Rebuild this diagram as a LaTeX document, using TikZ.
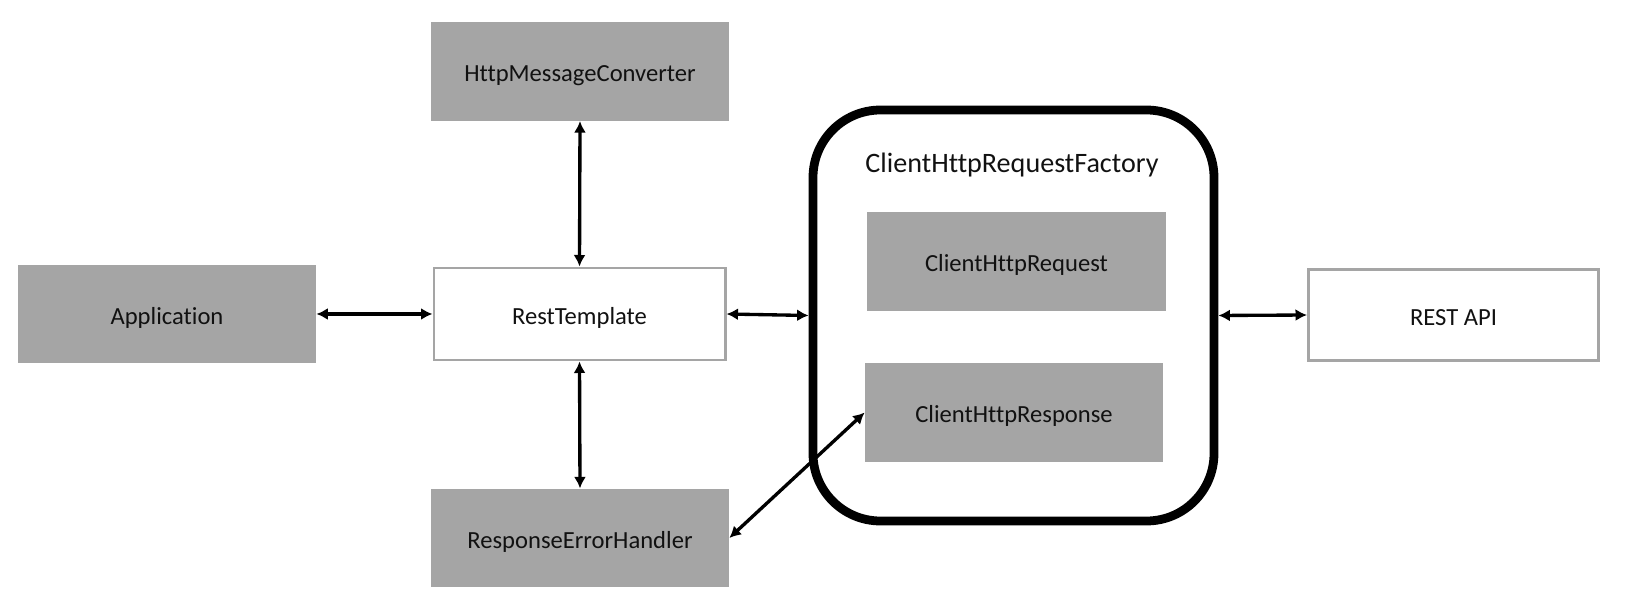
\documentclass[tikz,border=0pt]{standalone}
\usepackage{fontspec}
\setmainfont{Carlito}[Ligatures={NoCommon,NoContextual}]
\usetikzlibrary{arrows.meta,positioning}
\definecolor{rtInk}{HTML}{111111}
\definecolor{rtGray}{HTML}{A5A5A5}
\tikzset{
  rtBlock/.style={
    draw=none,
    fill=rtGray,
    minimum width=5.96cm,
    minimum height=1.97cm,
    inner sep=0pt,
    text height=14.5pt,
    text depth=3pt,
    text=rtInk,
    font=\fontsize{14}{16}\selectfont
  },
  rtOpen/.style={
    rtBlock,
    fill=white,
    draw=rtGray,
    line width=1.7pt,
    minimum width=5.82cm,
    minimum height=1.84cm
  },
  rtFrame/.style={
    draw=black,
    line width=5pt,
    rounded corners=1.35cm,
    minimum width=8.02cm,
    minimum height=8.22cm,
    inner sep=0pt
  },
  rtArrow/.style={
    {Latex[length=2.3mm,width=2.4mm]}-{Latex[length=2.3mm,width=2.4mm]},
    line width=1.9pt,
    draw=black
  }
}

\begin{document}
\begin{tikzpicture}[x=1cm,y=1cm]
\useasboundingbox (0,0) rectangle (32.64,12.12);

% Left side.
\node[rtBlock] (app) at (3.34,5.84) {Application};
\node[rtOpen] (rest) at (11.59,5.84) {RestTemplate};
\node[rtBlock] (conv) at (11.60,10.69) {HttpMessageConverter};
\node[rtBlock] (err) at (11.60,1.36) {ResponseErrorHandler};

% Request factory.
\node[rtFrame] (factory) at (20.27,5.81) {};
\node[text=rtInk, font=\fontsize{16}{19}\selectfont] (factoryTitle) at (20.24,8.82)
  {ClientHttpRequestFactory};
\node[rtBlock, minimum width=5.98cm] (req) at (20.33,6.89) {ClientHttpRequest};
\node[rtBlock] (resp) at (20.28,3.87) {ClientHttpResponse};

\node[rtOpen, minimum width=5.80cm, minimum height=1.82cm] (api) at (29.07,5.82) {REST API};

% Connectors.
\draw[rtArrow] (app.east) -- (rest.west);
\draw[rtArrow] (rest.north) -- (conv.south);
\draw[rtArrow] (rest.south) -- (err.north);
\draw[rtArrow] (rest.east) -- (factory.west);
\draw[rtArrow] (factory.east) -- (api.west);
\draw[rtArrow] (err.east) -- (resp.west);

\end{tikzpicture}
\end{document}
